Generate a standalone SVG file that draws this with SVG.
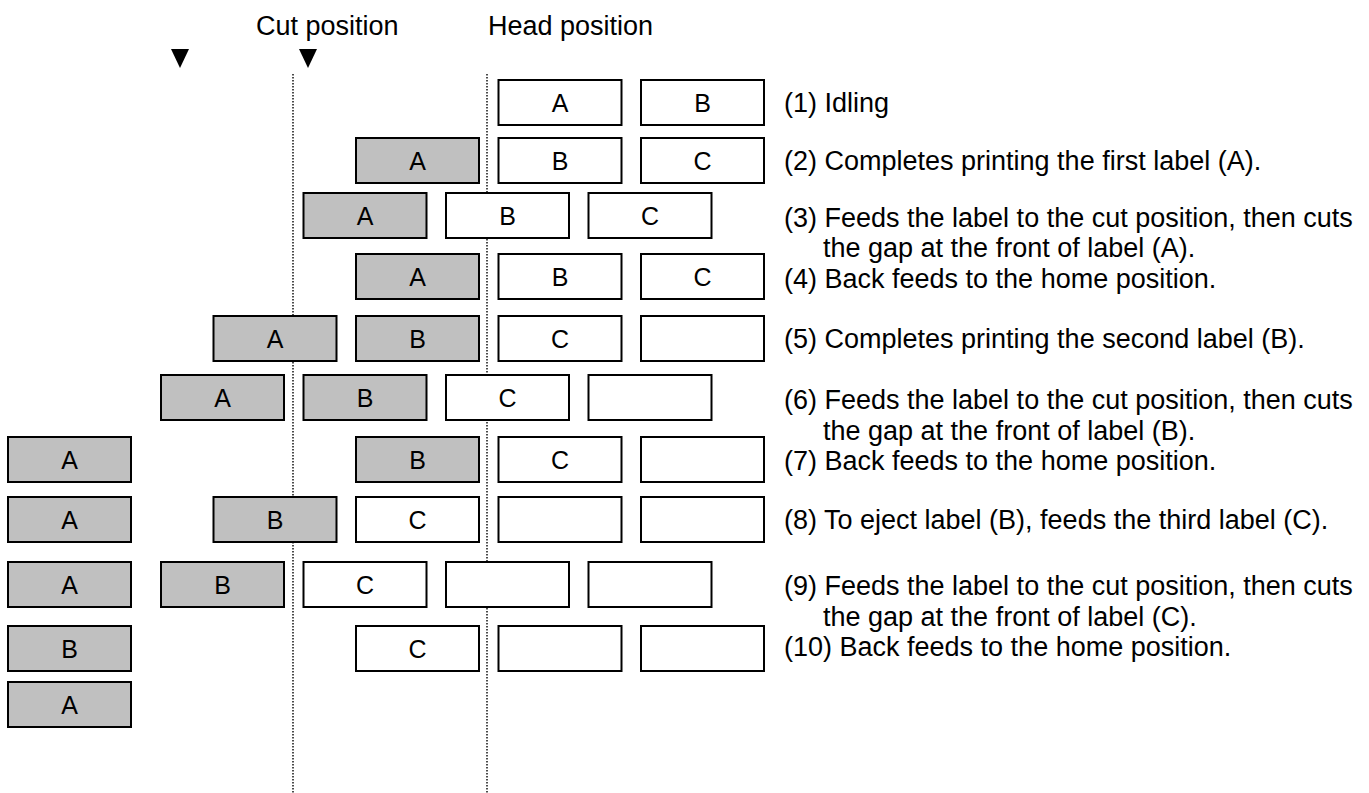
<svg xmlns="http://www.w3.org/2000/svg" width="1369" height="793" viewBox="0 0 1369 793">
<style>
.w{fill:#fff;stroke:#000;stroke-width:2}
.g{fill:#c0c0c0;stroke:#000;stroke-width:2}
.lbl{font-family:"Liberation Sans",Arial,sans-serif;font-size:25px;text-anchor:middle;fill:#000}
.t{font-family:"Liberation Sans",Arial,sans-serif;font-size:27px;fill:#000}
.guide{stroke:#000;stroke-width:1.4;stroke-dasharray:1.4 1.6;fill:none}
</style>
<rect width="1369" height="793" fill="#fff"/>
<g id="headers">
<text class="t" x="256" y="35">Cut position</text>
<text class="t" x="488" y="35">Head position</text>
<polygon points="171,49 189,49 180,68" fill="#000"/>
<polygon points="299,49 317,49 308,68" fill="#000"/>
</g>
<g id="connectors">
<line class="guide" x1="293" y1="74" x2="293" y2="793"/>
<line class="guide" x1="487" y1="74" x2="487" y2="793"/>
</g>
<!-- Row 1 -->
<g id="r1a"><rect class="w" x="498.5" y="80" width="123" height="45"/><text class="lbl" x="560" y="111.5">A</text></g>
<g id="r1b"><rect class="w" x="641" y="80" width="123" height="45"/><text class="lbl" x="702.5" y="111.5">B</text></g>
<!-- Row 2 -->
<g id="r2a"><rect class="g" x="356" y="138" width="123" height="45"/><text class="lbl" x="417.5" y="169.5">A</text></g>
<g id="r2b"><rect class="w" x="498.5" y="138" width="123" height="45"/><text class="lbl" x="560" y="169.5">B</text></g>
<g id="r2c"><rect class="w" x="641" y="138" width="123" height="45"/><text class="lbl" x="702.5" y="169.5">C</text></g>
<!-- Row 3 -->
<g id="r3a"><rect class="g" x="303.5" y="193" width="123" height="45"/><text class="lbl" x="365" y="224.5">A</text></g>
<g id="r3b"><rect class="w" x="446" y="193" width="123" height="45"/><text class="lbl" x="507.5" y="224.5">B</text></g>
<g id="r3c"><rect class="w" x="588.5" y="193" width="123" height="45"/><text class="lbl" x="650" y="224.5">C</text></g>
<!-- Row 4 -->
<g id="r4a"><rect class="g" x="356" y="254" width="123" height="45"/><text class="lbl" x="417.5" y="285.5">A</text></g>
<g id="r4b"><rect class="w" x="498.5" y="254" width="123" height="45"/><text class="lbl" x="560" y="285.5">B</text></g>
<g id="r4c"><rect class="w" x="641" y="254" width="123" height="45"/><text class="lbl" x="702.5" y="285.5">C</text></g>
<!-- Row 5 -->
<g id="r5a"><rect class="g" x="213.5" y="316" width="123" height="45"/><text class="lbl" x="275" y="347.5">A</text></g>
<g id="r5b"><rect class="g" x="356" y="316" width="123" height="45"/><text class="lbl" x="417.5" y="347.5">B</text></g>
<g id="r5c"><rect class="w" x="498.5" y="316" width="123" height="45"/><text class="lbl" x="560" y="347.5">C</text></g>
<g id="r5d"><rect class="w" x="641" y="316" width="123" height="45"/></g>
<!-- Row 6 -->
<g id="r6a"><rect class="g" x="161" y="375" width="123" height="45"/><text class="lbl" x="222.5" y="406.5">A</text></g>
<g id="r6b"><rect class="g" x="303.5" y="375" width="123" height="45"/><text class="lbl" x="365" y="406.5">B</text></g>
<g id="r6c"><rect class="w" x="446" y="375" width="123" height="45"/><text class="lbl" x="507.5" y="406.5">C</text></g>
<g id="r6d"><rect class="w" x="588.5" y="375" width="123" height="45"/></g>
<!-- Row 7 -->
<g id="r7a"><rect class="g" x="8" y="437" width="123" height="45"/><text class="lbl" x="69.5" y="468.5">A</text></g>
<g id="r7b"><rect class="g" x="356" y="437" width="123" height="45"/><text class="lbl" x="417.5" y="468.5">B</text></g>
<g id="r7c"><rect class="w" x="498.5" y="437" width="123" height="45"/><text class="lbl" x="560" y="468.5">C</text></g>
<g id="r7d"><rect class="w" x="641" y="437" width="123" height="45"/></g>
<!-- Row 8 -->
<g id="r8a"><rect class="g" x="8" y="497" width="123" height="45"/><text class="lbl" x="69.5" y="528.5">A</text></g>
<g id="r8b"><rect class="g" x="213.5" y="497" width="123" height="45"/><text class="lbl" x="275" y="528.5">B</text></g>
<g id="r8c"><rect class="w" x="356" y="497" width="123" height="45"/><text class="lbl" x="417.5" y="528.5">C</text></g>
<g id="r8d"><rect class="w" x="498.5" y="497" width="123" height="45"/></g>
<g id="r8e"><rect class="w" x="641" y="497" width="123" height="45"/></g>
<!-- Row 9 -->
<g id="r9a"><rect class="g" x="8" y="562" width="123" height="45"/><text class="lbl" x="69.5" y="593.5">A</text></g>
<g id="r9b"><rect class="g" x="161" y="562" width="123" height="45"/><text class="lbl" x="222.5" y="593.5">B</text></g>
<g id="r9c"><rect class="w" x="303.5" y="562" width="123" height="45"/><text class="lbl" x="365" y="593.5">C</text></g>
<g id="r9d"><rect class="w" x="446" y="562" width="123" height="45"/></g>
<g id="r9e"><rect class="w" x="588.5" y="562" width="123" height="45"/></g>
<!-- Row 10 -->
<g id="r10a"><rect class="g" x="8" y="626" width="123" height="45"/><text class="lbl" x="69.5" y="657.5">B</text></g>
<g id="r10b"><rect class="w" x="356" y="626" width="123" height="45"/><text class="lbl" x="417.5" y="657.5">C</text></g>
<g id="r10c"><rect class="w" x="498.5" y="626" width="123" height="45"/></g>
<g id="r10d"><rect class="w" x="641" y="626" width="123" height="45"/></g>
<!-- Row 11 -->
<g id="r11a"><rect class="g" x="8" y="682" width="123" height="45"/><text class="lbl" x="69.5" y="713.5">A</text></g>
<g id="steps">
<text class="t" x="784" y="112">(1) Idling</text>
<text class="t" x="784" y="170">(2) Completes printing the first label (A).</text>
<text class="t" x="784" y="227">(3) Feeds the label to the cut position, then cuts</text>
<text class="t" x="823" y="257">the gap at the front of label (A).</text>
<text class="t" x="784" y="288">(4) Back feeds to the home position.</text>
<text class="t" x="784" y="348">(5) Completes printing the second label (B).</text>
<text class="t" x="784" y="409">(6) Feeds the label to the cut position, then cuts</text>
<text class="t" x="823" y="440">the gap at the front of label (B).</text>
<text class="t" x="784" y="470">(7) Back feeds to the home position.</text>
<text class="t" x="784" y="529">(8) To eject label (B), feeds the third label (C).</text>
<text class="t" x="784" y="595">(9) Feeds the label to the cut position, then cuts</text>
<text class="t" x="823" y="626">the gap at the front of label (C).</text>
<text class="t" x="784" y="656">(10) Back feeds to the home position.</text>
</g>
</svg>
